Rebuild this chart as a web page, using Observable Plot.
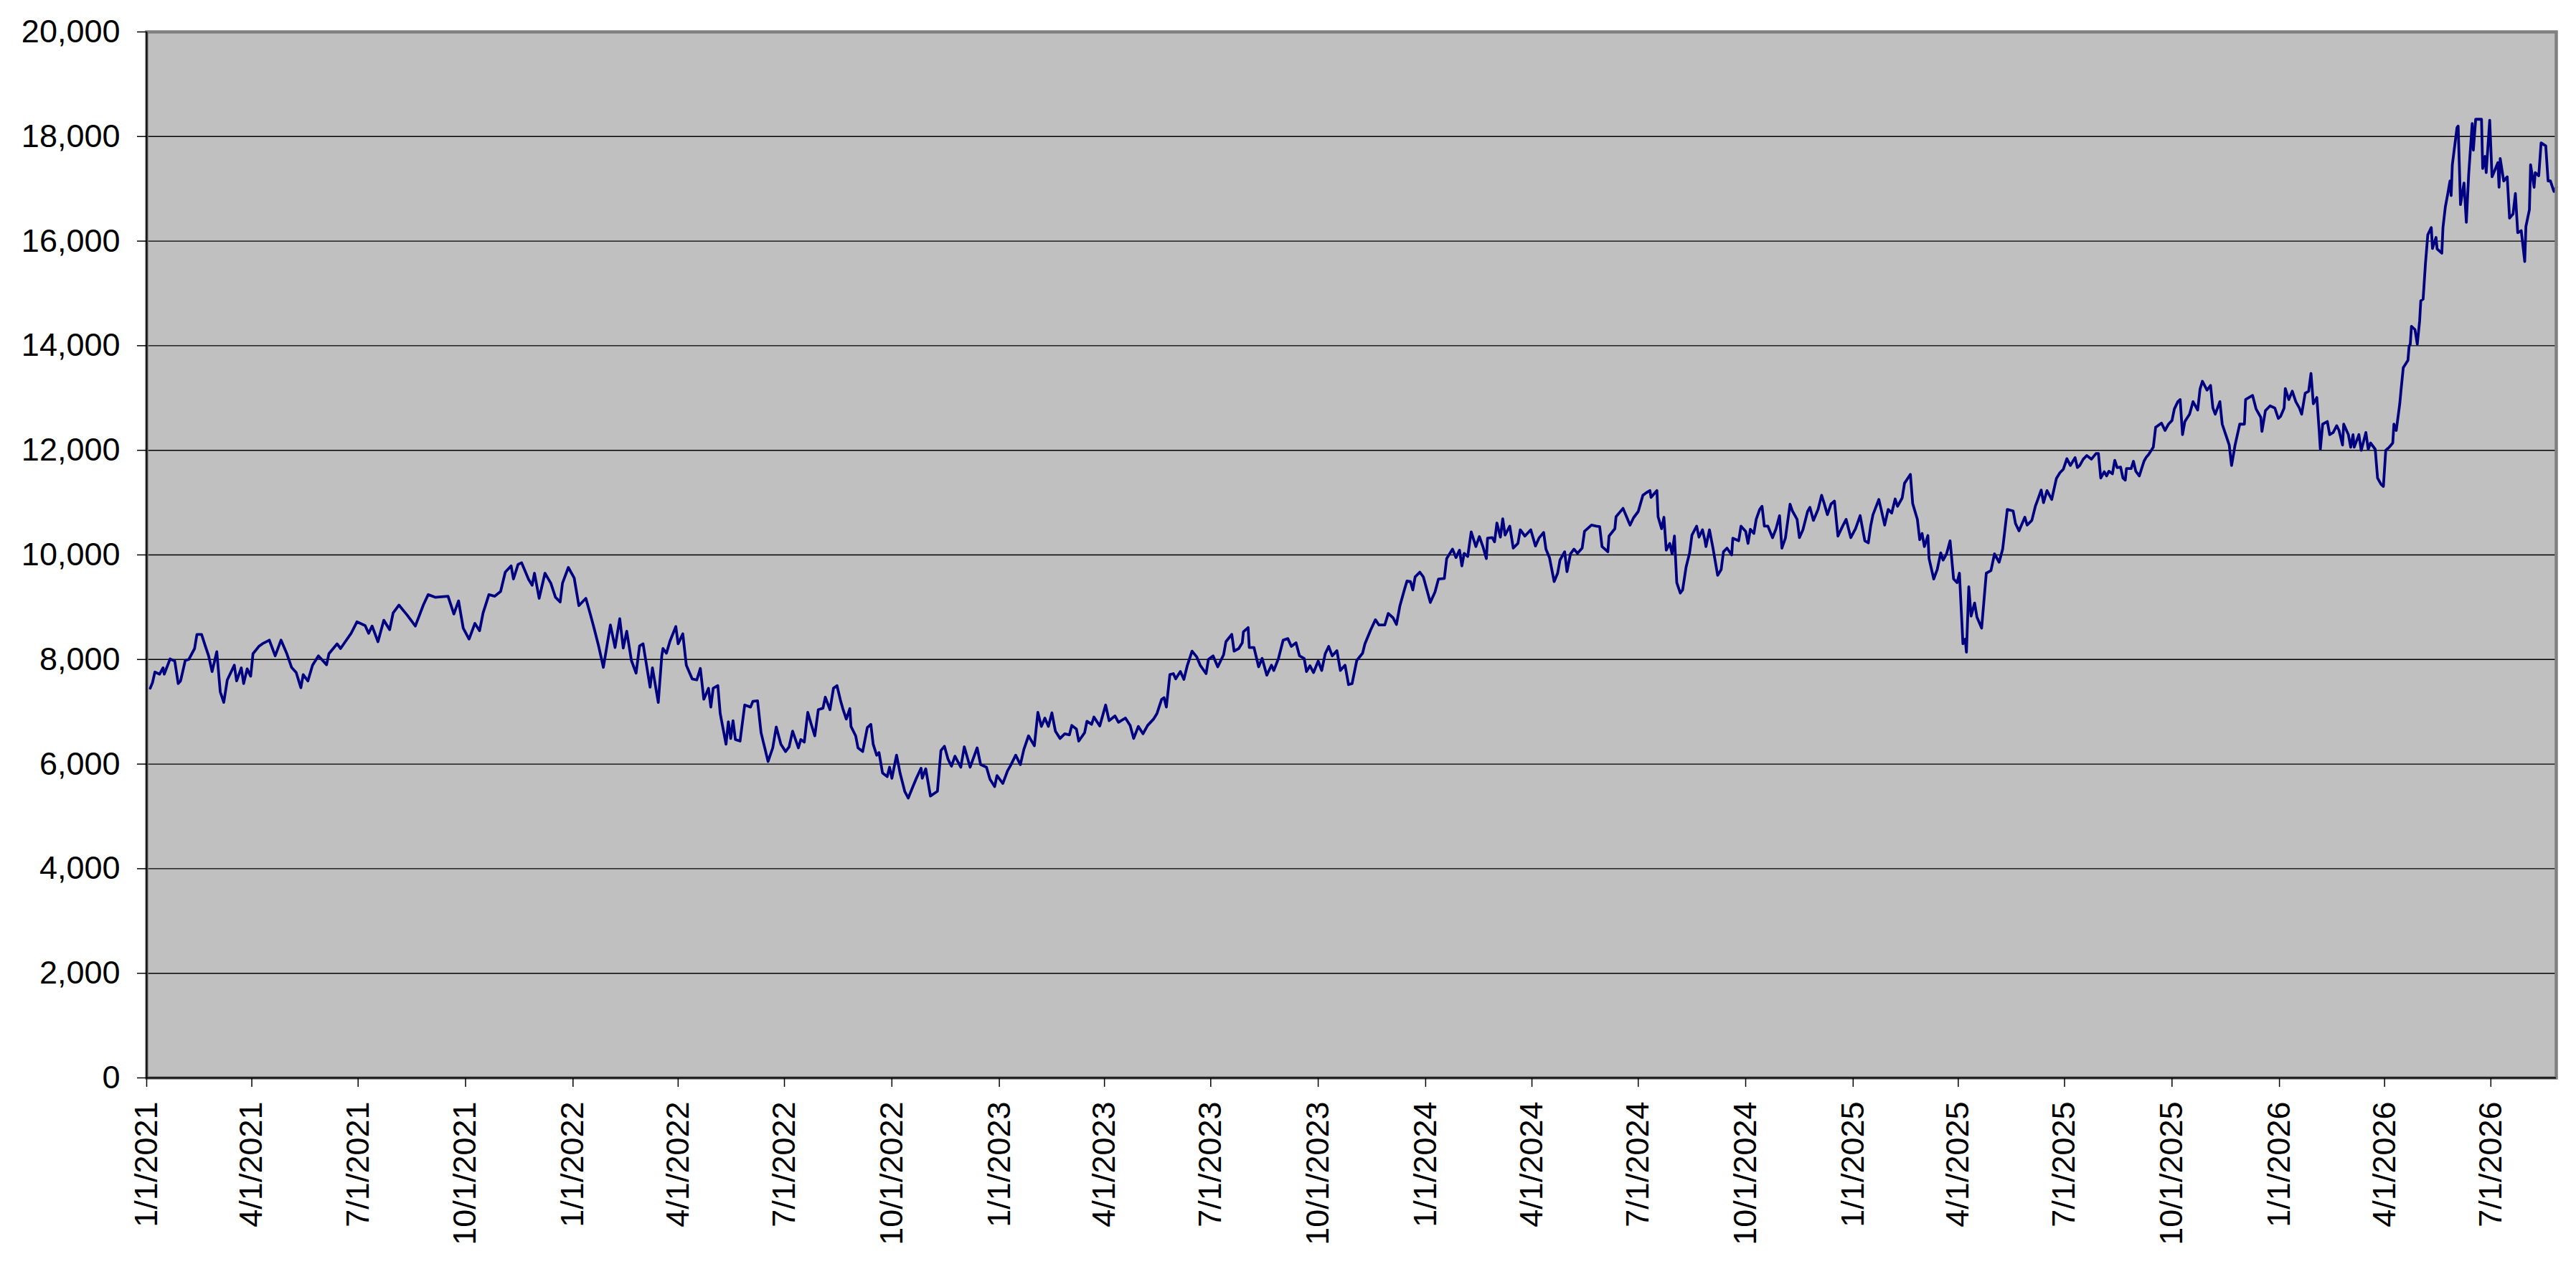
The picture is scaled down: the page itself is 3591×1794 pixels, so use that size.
<!DOCTYPE html>
<html>
<head>
<meta charset="utf-8">
<script src="https://cdn.jsdelivr.net/npm/d3@7"></script>
<script src="https://cdn.jsdelivr.net/npm/@observablehq/plot@0.6"></script>
<style>
html, body { margin: 0; padding: 0; background: #ffffff; }
#chart svg { display: block; }
</style>
</head>
<body>
<div id="chart"></div>
<script>
const dates = [
"2021-01-04","2021-01-06","2021-01-08","2021-01-12","2021-01-15","2021-01-16","2021-01-21","2021-01-25","2021-01-28","2021-01-30",
"2021-02-03","2021-02-06","2021-02-11","2021-02-13","2021-02-17","2021-02-20","2021-02-23","2021-02-26","2021-03-02","2021-03-05",
"2021-03-08","2021-03-11","2021-03-17","2021-03-19","2021-03-23","2021-03-25","2021-03-28","2021-03-31","2021-04-02","2021-04-07",
"2021-04-10","2021-04-16","2021-04-21","2021-04-26","2021-05-01","2021-05-05","2021-05-09","2021-05-13","2021-05-15","2021-05-19",
"2021-05-23","2021-05-28","2021-06-04","2021-06-06","2021-06-13","2021-06-16","2021-06-20","2021-06-25","2021-06-30","2021-07-07",
"2021-07-10","2021-07-13","2021-07-18","2021-07-23","2021-07-28","2021-07-31","2021-08-05","2021-08-12","2021-08-19","2021-08-26",
"2021-08-30","2021-09-05","2021-09-16","2021-09-21","2021-09-25","2021-09-29","2021-10-04","2021-10-09","2021-10-13","2021-10-16",
"2021-10-21","2021-10-26","2021-10-31","2021-11-04","2021-11-09","2021-11-11","2021-11-15","2021-11-18","2021-11-24","2021-11-27",
"2021-11-29","2021-12-03","2021-12-08","2021-12-13","2021-12-17","2021-12-21","2021-12-23","2021-12-28","2022-01-02","2022-01-06",
"2022-01-12","2022-01-16","2022-01-19","2022-01-23","2022-01-27","2022-02-02","2022-02-06","2022-02-10","2022-02-13","2022-02-16",
"2022-02-20","2022-02-24","2022-02-27","2022-03-02","2022-03-08","2022-03-10","2022-03-15","2022-03-18","2022-03-19","2022-03-22",
"2022-03-25","2022-03-30","2022-04-01","2022-04-05","2022-04-08","2022-04-13","2022-04-17","2022-04-20","2022-04-23","2022-04-27",
"2022-04-29","2022-05-01","2022-05-05","2022-05-07","2022-05-12","2022-05-14","2022-05-16","2022-05-18","2022-05-20","2022-05-24",
"2022-05-28","2022-06-02","2022-06-04","2022-06-08","2022-06-11","2022-06-17","2022-06-21","2022-06-24","2022-06-28","2022-07-02",
"2022-07-05","2022-07-08","2022-07-13","2022-07-15","2022-07-18","2022-07-21","2022-07-24","2022-07-27","2022-07-30","2022-08-03",
"2022-08-05","2022-08-09","2022-08-12","2022-08-15","2022-08-18","2022-08-20","2022-08-23","2022-08-26","2022-08-27","2022-08-31",
"2022-09-02","2022-09-06","2022-09-10","2022-09-13","2022-09-15","2022-09-18","2022-09-20","2022-09-23","2022-09-27","2022-09-29",
"2022-10-01","2022-10-05","2022-10-08","2022-10-12","2022-10-15","2022-10-19","2022-10-22","2022-10-26","2022-10-27","2022-10-30",
"2022-11-03","2022-11-09","2022-11-12","2022-11-15","2022-11-18","2022-11-21","2022-11-24","2022-11-29","2022-12-02","2022-12-07",
"2022-12-13","2022-12-16","2022-12-21","2022-12-24","2022-12-28","2022-12-30","2023-01-04","2023-01-08","2023-01-11","2023-01-15",
"2023-01-19","2023-01-22","2023-01-26","2023-01-31","2023-02-03","2023-02-06","2023-02-09","2023-02-12","2023-02-15","2023-02-18",
"2023-02-22","2023-02-26","2023-03-02","2023-03-04","2023-03-08","2023-03-10","2023-03-15","2023-03-17","2023-03-21","2023-03-23",
"2023-03-28","2023-04-02","2023-04-05","2023-04-10","2023-04-13","2023-04-19","2023-04-23","2023-04-26","2023-04-30","2023-05-04",
"2023-05-08","2023-05-13","2023-05-16","2023-05-20","2023-05-22","2023-05-24","2023-05-27","2023-05-30","2023-06-01","2023-06-05",
"2023-06-08","2023-06-11","2023-06-15","2023-06-19","2023-06-22","2023-06-27","2023-06-29","2023-07-03","2023-07-07","2023-07-12",
"2023-07-14","2023-07-19","2023-07-21","2023-07-25","2023-07-28","2023-07-29","2023-08-02","2023-08-03","2023-08-07","2023-08-11",
"2023-08-14","2023-08-18","2023-08-22","2023-08-24","2023-08-28","2023-09-01","2023-09-05","2023-09-08","2023-09-12","2023-09-15",
"2023-09-19","2023-09-21","2023-09-24","2023-09-27","2023-10-01","2023-10-04","2023-10-07","2023-10-10","2023-10-13","2023-10-17",
"2023-10-20","2023-10-24","2023-10-27","2023-10-30","2023-11-03","2023-11-08","2023-11-10","2023-11-15","2023-11-19","2023-11-22",
"2023-11-27","2023-11-30","2023-12-04","2023-12-07","2023-12-10","2023-12-14","2023-12-16","2023-12-19","2023-12-21","2023-12-23",
"2023-12-27","2023-12-30","2024-01-05","2024-01-09","2024-01-12","2024-01-17","2024-01-19","2024-01-24","2024-01-27","2024-01-30",
"2024-02-01","2024-02-03","2024-02-06","2024-02-09","2024-02-13","2024-02-16","2024-02-19","2024-02-22","2024-02-23","2024-02-27",
"2024-02-29","2024-03-02","2024-03-05","2024-03-07","2024-03-09","2024-03-13","2024-03-16","2024-03-20","2024-03-22","2024-03-26",
"2024-03-31","2024-04-04","2024-04-07","2024-04-11","2024-04-13","2024-04-16","2024-04-20","2024-04-23","2024-04-25","2024-04-29",
"2024-05-01","2024-05-04","2024-05-07","2024-05-10","2024-05-14","2024-05-16","2024-05-22","2024-05-26","2024-05-29","2024-05-31",
"2024-06-05","2024-06-06","2024-06-11","2024-06-12","2024-06-18","2024-06-21","2024-06-24","2024-06-27","2024-07-01","2024-07-05",
"2024-07-08","2024-07-11","2024-07-12","2024-07-17","2024-07-18","2024-07-21","2024-07-23","2024-07-25","2024-07-28","2024-07-30",
"2024-08-01","2024-08-03","2024-08-06","2024-08-08","2024-08-11","2024-08-14","2024-08-16","2024-08-20","2024-08-22","2024-08-25",
"2024-08-27","2024-08-28","2024-08-31","2024-09-03","2024-09-07","2024-09-10","2024-09-12","2024-09-15","2024-09-19","2024-09-20",
"2024-09-25","2024-09-27","2024-10-01","2024-10-03","2024-10-05","2024-10-08","2024-10-10","2024-10-13","2024-10-15","2024-10-17",
"2024-10-20","2024-10-24","2024-10-27","2024-10-30","2024-11-01","2024-11-04","2024-11-08","2024-11-10","2024-11-14","2024-11-16",
"2024-11-19","2024-11-23","2024-11-25","2024-11-28","2024-12-02","2024-12-05","2024-12-07","2024-12-10","2024-12-13","2024-12-16",
"2024-12-19","2024-12-23","2024-12-26","2024-12-30","2025-01-03","2025-01-07","2025-01-11","2025-01-14","2025-01-16","2025-01-18",
"2025-01-23","2025-01-25","2025-01-28","2025-01-31","2025-02-03","2025-02-06","2025-02-08","2025-02-12","2025-02-14","2025-02-19",
"2025-02-21","2025-02-25","2025-02-27","2025-03-01","2025-03-03","2025-03-06","2025-03-07","2025-03-11","2025-03-14","2025-03-17",
"2025-03-19","2025-03-22","2025-03-25","2025-03-28","2025-03-31","2025-04-02","2025-04-05","2025-04-07","2025-04-08","2025-04-10",
"2025-04-12","2025-04-15","2025-04-17","2025-04-21","2025-04-25","2025-04-29","2025-05-02","2025-05-06","2025-05-09","2025-05-13",
"2025-05-18","2025-05-20","2025-05-23","2025-05-28","2025-05-30","2025-06-03","2025-06-06","2025-06-08","2025-06-11","2025-06-13",
"2025-06-16","2025-06-20","2025-06-24","2025-06-27","2025-06-30","2025-07-03","2025-07-06","2025-07-10","2025-07-12","2025-07-14",
"2025-07-17","2025-07-20","2025-07-24","2025-07-28","2025-07-30","2025-08-01","2025-08-04","2025-08-06","2025-08-08","2025-08-11",
"2025-08-13","2025-08-15","2025-08-18","2025-08-20","2025-08-22","2025-08-23","2025-08-27","2025-08-29","2025-08-31","2025-09-03",
"2025-09-07","2025-09-09","2025-09-11","2025-09-15","2025-09-17","2025-09-22","2025-09-25","2025-09-28","2025-10-01","2025-10-03",
"2025-10-06","2025-10-08","2025-10-10","2025-10-12","2025-10-16","2025-10-19","2025-10-23","2025-10-25","2025-10-27","2025-10-31",
"2025-11-03","2025-11-05","2025-11-07","2025-11-11","2025-11-13","2025-11-16","2025-11-19","2025-11-21","2025-11-24","2025-11-28",
"2025-12-02","2025-12-03","2025-12-09","2025-12-12","2025-12-16","2025-12-17","2025-12-20","2025-12-24","2025-12-28","2025-12-31",
"2026-01-02","2026-01-05","2026-01-06","2026-01-09","2026-01-12","2026-01-15","2026-01-18","2026-01-20","2026-01-23","2026-01-26",
"2026-01-28","2026-01-30","2026-02-02","2026-02-04","2026-02-05","2026-02-07","2026-02-11","2026-02-13","2026-02-16","2026-02-19",
"2026-02-21","2026-02-24","2026-02-25","2026-03-01","2026-03-03","2026-03-05","2026-03-06","2026-03-10","2026-03-12","2026-03-16",
"2026-03-18","2026-03-20","2026-03-24","2026-03-26","2026-03-29","2026-03-31","2026-04-02","2026-04-05","2026-04-08","2026-04-09",
"2026-04-11","2026-04-14","2026-04-15","2026-04-17","2026-04-21","2026-04-22","2026-04-23","2026-04-24","2026-04-27","2026-04-29",
"2026-05-01","2026-05-02","2026-05-04","2026-05-06","2026-05-08","2026-05-11","2026-05-12","2026-05-15","2026-05-16","2026-05-20",
"2026-05-21","2026-05-23","2026-05-25","2026-05-27","2026-05-28","2026-05-29","2026-06-02","2026-06-03","2026-06-05","2026-06-08",
"2026-06-10","2026-06-12","2026-06-15","2026-06-16","2026-06-18","2026-06-23","2026-06-24","2026-06-26","2026-06-27","2026-06-30",
"2026-07-02","2026-07-05","2026-07-07","2026-07-08","2026-07-09","2026-07-12","2026-07-15","2026-07-17","2026-07-20","2026-07-22",
"2026-07-24","2026-07-27","2026-07-30","2026-07-31","2026-08-03","2026-08-04","2026-08-07","2026-08-08","2026-08-11","2026-08-13",
"2026-08-17","2026-08-19","2026-08-21","2026-08-24","2026-08-26"
];

const values = [
7450,7560,7760,7720,7840,7720,8010,7970,7540,7590,
7980,8000,8210,8480,8480,8270,8070,7770,8150,7380,
7180,7610,7890,7590,7840,7540,7820,7680,8110,8250,
8300,8370,8070,8370,8110,7850,7750,7460,7710,7590,
7890,8070,7900,8110,8300,8210,8340,8500,8720,8650,
8500,8640,8340,8750,8570,8890,9040,8850,8640,9050,
9240,9190,9210,8870,9120,8600,8390,8690,8550,8890,
9240,9210,9300,9670,9790,9540,9820,9850,9530,9420,
9650,9170,9650,9460,9190,9100,9460,9760,9560,9030,
9170,8850,8600,8250,7850,8660,8230,8780,8220,8540,
7980,7740,8260,8300,7470,7840,7180,8070,8210,8120,
8350,8630,8300,8490,7890,7630,7610,7830,7240,7450,
7090,7450,7500,6970,6380,6810,6490,6830,6470,6440,
7130,7090,7200,7210,6600,6050,6310,6710,6380,6240,
6330,6630,6310,6470,6420,6990,6760,6540,7040,7070,
7280,7040,7450,7500,7220,7060,6860,7060,6720,6540,
6310,6240,6700,6760,6380,6170,6220,5830,5760,5940,
5730,6170,5830,5480,5350,5570,5730,5920,5730,5910,
5390,5480,6260,6340,6100,5960,6150,5940,6330,5940,
6310,5990,5940,5710,5570,5780,5630,5870,5990,6170,
5990,6280,6540,6350,6990,6720,6880,6720,6980,6630,
6490,6580,6560,6740,6670,6440,6600,6820,6760,6900,
6730,7130,6830,6920,6800,6880,6740,6490,6720,6580,
6740,6860,6970,7240,7270,7090,7710,7730,7630,7770,
7620,7890,8160,8050,7890,7730,8000,8070,7860,8090,
8340,8480,8160,8210,8320,8530,8610,8230,8230,7860,
8020,7700,7890,7790,8020,8370,8400,8250,8320,8070,
8020,7770,7880,7750,7970,7790,8110,8250,8070,8170,
7790,7890,7520,7540,7980,8120,8300,8570,8760,8660,
8660,8880,8800,8670,9030,9350,9500,9490,9330,9580,
9670,9580,9090,9290,9540,9550,9930,10110,9950,10090,
9790,10030,9970,10440,10160,10350,10160,9930,10320,10330,
10250,10610,10340,10690,10380,10550,10130,10220,10480,10360,
10480,10170,10320,10430,10110,9950,9490,9650,9900,10060,
9680,10020,10110,10030,10130,10450,10570,10550,10540,10160,
10060,10360,10500,10730,10890,10730,10570,10710,10830,11140,
11190,11230,11100,11230,10730,10500,10720,10090,10220,10020,
10360,9470,9270,9330,9770,10040,10380,10550,10340,10480,
10290,10160,10480,10130,9610,9720,10060,10130,10000,10320,
10270,10550,10450,10220,10490,10410,10680,10870,10930,10550,
10550,10330,10500,10750,10130,10320,10970,10840,10680,10330,
10480,10830,10910,10660,10870,11140,11000,10770,10970,11030,
10360,10550,10680,10330,10500,10750,10270,10230,10550,10770,
11060,10870,10570,10870,10800,11070,10930,11090,11370,11540,
10980,10680,10290,10410,10160,10370,9930,9540,9720,10040,
9900,10020,10270,9540,9470,9650,8300,8390,8140,9390,
8830,9080,8810,8600,9650,9700,10020,9860,10110,10870,
10840,10600,10460,10720,10570,10660,10930,11050,11240,11000,
11230,11060,11460,11570,11640,11840,11710,11860,11670,11710,
11830,11900,11830,11940,11940,11470,11590,11510,11600,11550,
11810,11670,11680,11470,11430,11650,11650,11790,11600,11510,
11790,11870,11920,12060,12440,12520,12380,12500,12570,12790,
12930,12970,12300,12550,12690,12930,12770,13170,13320,13150,
13240,12810,12690,12930,12500,12300,12100,11710,12100,12500,
12500,12970,13050,12790,12630,12360,12760,12850,12810,12610,
12650,12810,13180,12970,13130,12930,12810,12690,13090,13130,
13470,12890,13010,12380,12020,12500,12550,12300,12340,12470,
12380,12100,12500,12300,12060,12300,12060,12300,12000,12340,
12020,12140,12020,11470,11350,11310,12000,12060,12140,12500,
12380,12890,13130,13580,13720,13990,14030,14370,14310,14030,
14470,14860,14890,15570,16120,16260,15860,16070,15850,15770,
16260,16650,16890,17150,16870,17460,18170,18200,16700,17110,
16360,17270,18250,17740,18330,18330,17390,17620,17310,18310,
17230,17390,17500,17030,17580,17150,17230,16440,16520,16910,
16160,16200,15610,16280,16600,17460,17030,17310,17250,17880,
17820,17150,17150,16950,17030
];

const xTickLabels = [
"1/1/2021","4/1/2021","7/1/2021","10/1/2021",
"1/1/2022","4/1/2022","7/1/2022","10/1/2022",
"1/1/2023","4/1/2023","7/1/2023","10/1/2023",
"1/1/2024","4/1/2024","7/1/2024","10/1/2024",
"1/1/2025","4/1/2025","7/1/2025","10/1/2025",
"1/1/2026","4/1/2026","7/1/2026"
];
const yTicks = [0, 2000, 4000, 6000, 8000, 10000, 12000, 14000, 16000, 18000, 20000];
const xDomain = ["2021-01-01", "2026-08-26"];

const parseTick = d3.utcParse("%m/%d/%Y");
const formatTick = d3.utcFormat("%-m/%-d/%Y");
const data = dates.map((d, i) => ({date: new Date(d + "T00:00:00Z"), value: values[i]}));
const xStart = new Date(xDomain[0] + "T00:00:00Z");
const xEnd = new Date(xDomain[1] + "T00:00:00Z");

const chart = Plot.plot({
  width: 3591,
  height: 1794,
  marginLeft: 204,
  marginRight: 28,
  marginTop: 44,
  marginBottom: 292,
  style: {fontFamily: "'Liberation Sans', Arial, sans-serif", fontSize: "45px", background: "#ffffff", color: "#000000"},
  x: {type: "utc", domain: [xStart, xEnd]},
  y: {domain: [0, 20000]},
  marks: [
    Plot.frame({fill: "#c0c0c0"}),
    Plot.ruleY(yTicks, {stroke: "#000000", strokeWidth: 1.4}),
    Plot.line(data, {x: "date", y: "value", stroke: "#000080", strokeWidth: 3.8, strokeLinejoin: "round"}),
    Plot.frame({stroke: "#808080", strokeWidth: 4.5}),
    Plot.ruleX([xStart], {stroke: "#000000", strokeWidth: 2}),
    Plot.ruleY([0], {stroke: "#000000", strokeWidth: 2}),
    Plot.axisY({ticks: yTicks, tickSize: 13, tickPadding: 24, tickFormat: d3.format(","), fontSize: 45, label: null, stroke: "#000000", strokeWidth: 1.5}),
    Plot.axisX({ticks: xTickLabels.map(parseTick), tickSize: 13, tickPadding: 20, tickRotate: -90, tickFormat: formatTick, fontSize: 45, label: null, stroke: "#000000", strokeWidth: 1.5})
  ]
});
document.getElementById("chart").appendChild(chart);
</script>
</body>
</html>
